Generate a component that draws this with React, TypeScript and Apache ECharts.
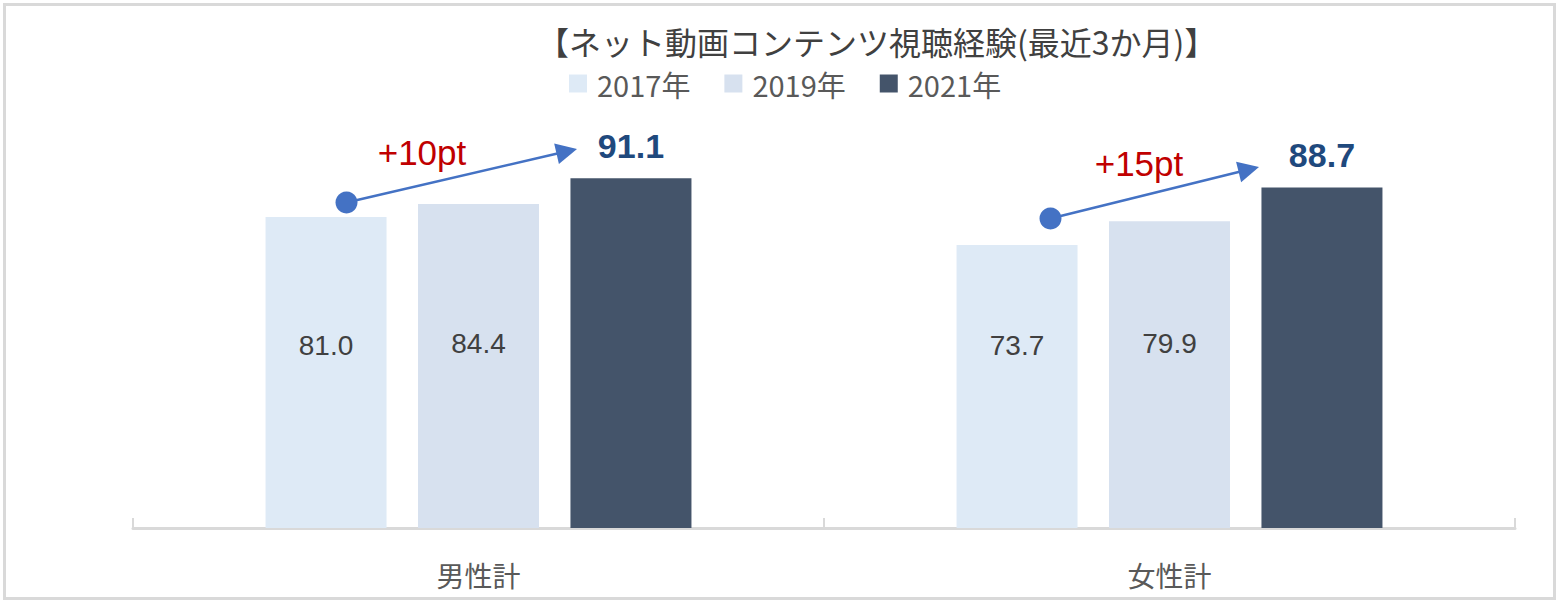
import React, { useEffect, useRef } from "react";
import * as echarts from "echarts";

const categories = ["男性計", "女性計"];
const seriesNames = ["2017年", "2019年", "2021年"];
const values2017 = [81.0, 73.7];
const values2019 = [84.4, 79.9];
const values2021 = [91.1, 88.7];
const changeLabels = ["+10pt", "+15pt"];
const titleText = "【ネット動画コンテンツ視聴経験(最近3か月)】";

const JP = "'Noto Sans CJK JP', 'Noto Sans', sans-serif";
const NUM = "'Liberation Sans', Arial, sans-serif";

function arrowGraphics(x1: number, y1: number, x2: number, y2: number) {
  const dx = x2 - x1;
  const dy = y2 - y1;
  const len = Math.sqrt(dx * dx + dy * dy);
  const ux = dx / len;
  const uy = dy / len;
  const headLen = 21;
  const headHalf = 10.5;
  const bx = x2 - ux * headLen;
  const by = y2 - uy * headLen;
  const px = -uy;
  const py = ux;
  const color = "#4472c4";
  return [
    {
      type: "line",
      shape: { x1, y1, x2: bx + ux * 2, y2: by + uy * 2 },
      style: { stroke: color, lineWidth: 2.5 },
      z: 100,
    },
    {
      type: "polygon",
      shape: {
        points: [
          [x2, y2],
          [bx + px * headHalf, by + py * headHalf],
          [bx - px * headHalf, by - py * headHalf],
        ],
      },
      style: { fill: color },
      z: 100,
    },
    {
      type: "circle",
      shape: { cx: x1, cy: y1, r: 11 },
      style: { fill: color },
      z: 101,
    },
  ];
}

export default function App() {
  const ref = useRef<HTMLDivElement>(null);

  useEffect(() => {
    document.body.style.margin = "0";
    if (!ref.current) return;
    const chart = echarts.init(ref.current, undefined, { renderer: "svg" });

    const insideLabel = (dist: number) => ({
      show: true,
      position: "insideBottom",
      distance: dist,
      color: "#404040",
      fontFamily: NUM,
      fontSize: 28,
      formatter: (p: any) => Number(p.value).toFixed(1),
    });

    const option: any = {
      animation: false,
      backgroundColor: "#ffffff",
      title: {
        text: titleText,
        left: 532,
        top: 20,
        textStyle: {
          fontFamily: JP,
          fontSize: 32,
          fontWeight: "normal",
          color: "#404040",
        },
      },
      legend: {
        data: seriesNames,
        left: 564,
        top: 64,
        itemWidth: 18,
        itemHeight: 18,
        itemGap: 34,
        icon: "rect",
        textStyle: {
          fontFamily: JP,
          fontSize: 29,
          color: "#595959",
          padding: [0, 0, 0, 5],
        },
      },
      grid: { left: 133, right: 43, top: 144, bottom: 74 },
      xAxis: {
        type: "category",
        data: categories,
        axisLine: { lineStyle: { color: "#d9d9d9", width: 3 } },
        axisTick: {
          show: true,
          inside: true,
          length: 10,
          lineStyle: { color: "#d9d9d9", width: 2 },
        },
        axisLabel: {
          fontFamily: JP,
          fontSize: 28,
          color: "#595959",
          margin: 33,
        },
      },
      yAxis: {
        type: "value",
        min: 0,
        max: 100,
        show: false,
        splitLine: { show: false },
      },
      series: [
        {
          name: seriesNames[0],
          type: "bar",
          data: values2017,
          barWidth: 121,
          barGap: "26%",
          itemStyle: { color: "#deeaf6" },
          label: insideLabel(169),
        },
        {
          name: seriesNames[1],
          type: "bar",
          data: values2019,
          barWidth: 121,
          barGap: "26%",
          itemStyle: { color: "#d7e1ef" },
          label: insideLabel(171),
        },
        {
          name: seriesNames[2],
          type: "bar",
          data: values2021,
          barWidth: 121,
          barGap: "26%",
          itemStyle: { color: "#44546a" },
          label: {
            show: true,
            position: "top",
            distance: 15,
            color: "#1f497d",
            fontFamily: NUM,
            fontSize: 34,
            fontWeight: "bold",
            formatter: (p: any) => Number(p.value).toFixed(1),
          },
        },
      ],
      graphic: [
        {
          type: "rect",
          shape: { x: 4.5, y: 4.5, width: 1550, height: 594 },
          style: { fill: "none", stroke: "#d9d9d9", lineWidth: 3 },
          silent: true,
          z: 0,
        },
        ...arrowGraphics(346.5, 202.5, 577, 149),
        ...arrowGraphics(1050.5, 218.5, 1259, 167),
        {
          type: "text",
          x: 422,
          y: 152,
          style: {
            text: changeLabels[0],
            fill: "#c00000",
            font: `35px ${NUM}`,
            align: "center",
            verticalAlign: "middle",
          },
          z: 102,
        },
        {
          type: "text",
          x: 1139,
          y: 163,
          style: {
            text: changeLabels[1],
            fill: "#c00000",
            font: `35px ${NUM}`,
            align: "center",
            verticalAlign: "middle",
          },
          z: 102,
        },
      ],
    };

    chart.setOption(option);
    return () => chart.dispose();
  }, []);

  return <div ref={ref} style={{ width: 1558, height: 602 }} />;
}
